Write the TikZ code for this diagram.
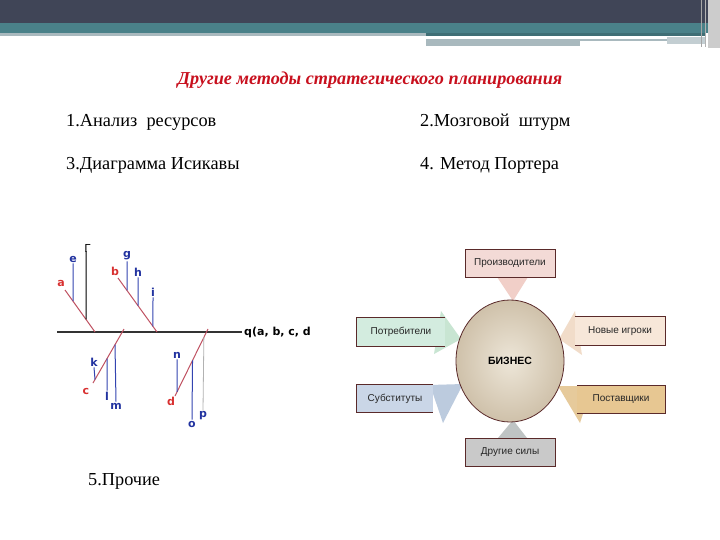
\documentclass[tikz,border=0pt]{standalone}
\usepackage{fontspec}
\setmainfont{Liberation Serif}
\newfontfamily\labfont{DejaVu Sans}
\newfontfamily\boxfont{Liberation Sans}
\usetikzlibrary{calc,shapes.geometric}
\definecolor{bandark}{HTML}{404557}
\definecolor{banteal}{HTML}{4A8189}
\definecolor{bangray}{HTML}{A9B9BE}
\definecolor{titlered}{HTML}{C8101E}
\definecolor{redlab}{HTML}{D83030}
\definecolor{bluelab}{HTML}{2233A0}
\definecolor{bonecol}{HTML}{C05262}
\definecolor{ribcol}{HTML}{3344B0}
\definecolor{bordcol}{HTML}{5A2A2A}
\definecolor{pinkbox}{HTML}{F3DAD6}
\definecolor{pinktri}{HTML}{F1CFC8}
\definecolor{greenbox}{HTML}{D3ECDF}
\definecolor{greentri}{HTML}{C8E5D2}
\definecolor{peachbox}{HTML}{F7E7D9}
\definecolor{peachtri}{HTML}{F1DCC9}
\definecolor{bluebox}{HTML}{CAD6E7}
\definecolor{bluetri}{HTML}{BCCBDE}
\definecolor{tanbox}{HTML}{E7C792}
\definecolor{tantri}{HTML}{E6CA9B}
\definecolor{graybox}{HTML}{C9C9C9}
\definecolor{graytri}{HTML}{BFC4C4}
\definecolor{bizin}{HTML}{EDE6D8}
\definecolor{bizout}{HTML}{CFC1AA}
\tikzset{
  bodytext/.style={anchor=base west, inner sep=0pt, font=\fontsize{18.3}{22}\selectfont},
  redl/.style={text=redlab, font=\labfont\bfseries\fontsize{11}{12}\selectfont, inner sep=1pt},
  bluel/.style={text=bluelab, font=\labfont\bfseries\fontsize{11}{12}\selectfont, inner sep=1pt},
  bone/.style={bonecol, line width=1pt},
  rib/.style={ribcol, line width=1pt},
  spine/.style={black!80, line width=1.3pt},
  pbox/.style={font=\boxfont\fontsize{10}{12}\selectfont, text=black!85, inner sep=0pt, minimum height=28pt},
  bord/.style={bordcol, line width=0.8pt},
}
\begin{document}
\begin{tikzpicture}[x=1pt,y=-1pt]
\useasboundingbox (0,0) rectangle (720,540);
\fill[white] (0,0) rectangle (720,540);
% banner
\fill[bandark] (0,0) rectangle (720,23.5);
\fill[banteal] (0,23.5) rectangle (720,33);
\fill[bangray] (0,33) rectangle (426,36);
\fill[banteal!85!black] (426,33) rectangle (705,36);
\fill[bangray] (426,39.5) rectangle (667,41.5);
\fill[bangray] (426,41.5) rectangle (580,46.5);
\fill[bangray!70!white] (667,37) rectangle (705,44);
\fill[black!20] (708,0) rectangle (720,48);
\draw[black!35, line width=0.8pt] (701,0) -- (701,47);
\draw[black!30, line width=0.8pt] (705,0) -- (705,47);

% title and texts
\node[font=\fontsize{18.2}{21}\selectfont\bfseries\itshape, text=titlered, inner sep=0pt] (title) at (370,80) {Другие методы стратегического планирования};
\node[bodytext] (t1) at (66,127) {1.Анализ\ \ ресурсов};
\node[bodytext] (t2) at (420,127) {2.Мозговой\ \ штурм};
\node[bodytext] (t3) at (66,170) {3.Диаграмма Исикавы};
\node[bodytext] (t4) at (420,170) {4. Метод Портера};
\node[bodytext] (t5) at (88,485) {5.Прочие};

% fishbone
\coordinate (sL) at (57,332);
\coordinate (sR) at (242,332);
\draw[spine] (sL) -- (sR);
\node[anchor=west, font=\labfont\bfseries\fontsize{11}{12}\selectfont, inner sep=1pt] (q) at (243,332) {q(a, b, c, d};

\coordinate (a1) at (65,290); \coordinate (a2) at (95,332);
\coordinate (b1) at (118,278); \coordinate (b2) at (157,332);
\coordinate (c1) at (93,383); \coordinate (c2) at (124,329);
\coordinate (d1) at (175,396); \coordinate (d2) at (208,329);
\draw[bone] (a1) -- (a2);
\draw[bone] (b1) -- (b2);
\draw[bone] (c1) -- (c2);
\draw[bone] (d1) -- (d2);

\node[redl] (la) at (61,283) {a};
\node[redl] (lb) at (115,271) {b};
\node[redl] (lc) at (86,391) {c};
\node[redl] (ld) at (171,401) {d};

\node[bluel] (le) at (73,259) {e};
\draw[rib] (le.south) -- ($(a1)!0.267!(a2)$);
\node[font=\labfont\fontsize{11}{12}\selectfont, anchor=south west, inner sep=0pt] (lf) at (84.2,253) {Г};
\draw[black, line width=1pt] (86,251) -- ($(a1)!0.7!(a2)$);

\node[bluel] (lg) at (127,256) {g};
\draw[rib] (lg.south) -- ($(b1)!0.231!(b2)$);
\node[bluel] (lh) at (138,272) {h};
\draw[rib] (lh.south) -- ($(b1)!0.513!(b2)$);
\node[bluel] (li) at (153,292) {i};
\draw[rib] (li.south) -- ($(b1)!0.897!(b2)$);

\node[bluel] (lk) at (94,362) {k};
\draw[rib] (lk.south) -- ($(c1)!0.0645!(c2)$);
\node[bluel] (ll) at (107,396) {l};
\draw[rib] (ll.north) -- ($(c1)!0.4516!(c2)$);
\node[bluel] (lm) at (116,406) {m};
\draw[rib] (lm.north) -- ($(c1)!0.7097!(c2)$);

\node[bluel] (ln) at (177,355) {n};
\draw[rib] (ln.south) -- ($(d1)!0.0625!(d2)$);
\node[bluel] (lo) at (192,424) {o};
\draw[rib] (lo.north) -- ($(d1)!0.531!(d2)$);
\node[bluel] (lp) at (203,416) {p};
\draw[black!30, line width=0.8pt] (lp.north) -- ($(d1)!0.875!(d2)$);

% Porter
\fill[pinktri] (497,277) -- (528,277) -- (513,301) -- cycle;
\fill[graytri] (498,438) -- (527,438) -- (513,420) -- cycle;
\fill[greentri] (441,311) -- (461,339) -- (434,354) -- cycle;
\fill[bluetri] (430,385) -- (463,384) -- (443,423) -- cycle;
\fill[peachtri] (575,311) -- (559,339) -- (582,355) -- cycle;
\fill[tantri] (592,386) -- (558,386) -- (580,423) -- cycle;

\node[ellipse, minimum width=108pt, minimum height=122pt, inner color=bizin, outer color=bizout, draw=bordcol, line width=0.8pt, font=\boxfont\bfseries\fontsize{10.5}{12}\selectfont] (biz) at (510,361) {БИЗНЕС};

\node[pbox, fill=pinkbox, draw=bordcol, line width=0.8pt, minimum width=90pt] (proizv) at (510,263) {Производители};
\node[pbox, fill=graybox, draw=bordcol, line width=0.8pt, minimum width=90pt] (drug) at (510,452) {Другие силы};
\node[pbox, fill=greenbox, minimum width=88pt] (potr) at (401,332) {Потребители};
\draw[bord] (potr.north east) -- (potr.north west) -- (potr.south west) -- (potr.south east);
\node[pbox, fill=bluebox, minimum width=76pt, minimum height=27pt] (subst) at (395,398.5) {Субституты};
\draw[bord] (subst.north east) -- (subst.north west) -- (subst.south west) -- (subst.south east);
\node[pbox, fill=peachbox, minimum width=90pt] (nov) at (620,331) {Новые игроки};
\draw[bord] (nov.north west) -- (nov.north east) -- (nov.south east) -- (nov.south west);
\node[pbox, fill=tanbox, minimum width=88pt, minimum height=27pt] (post) at (621,399.5) {Поставщики};
\draw[bord] (post.north west) -- (post.north east) -- (post.south east) -- (post.south west);
\end{tikzpicture}
\end{document}
